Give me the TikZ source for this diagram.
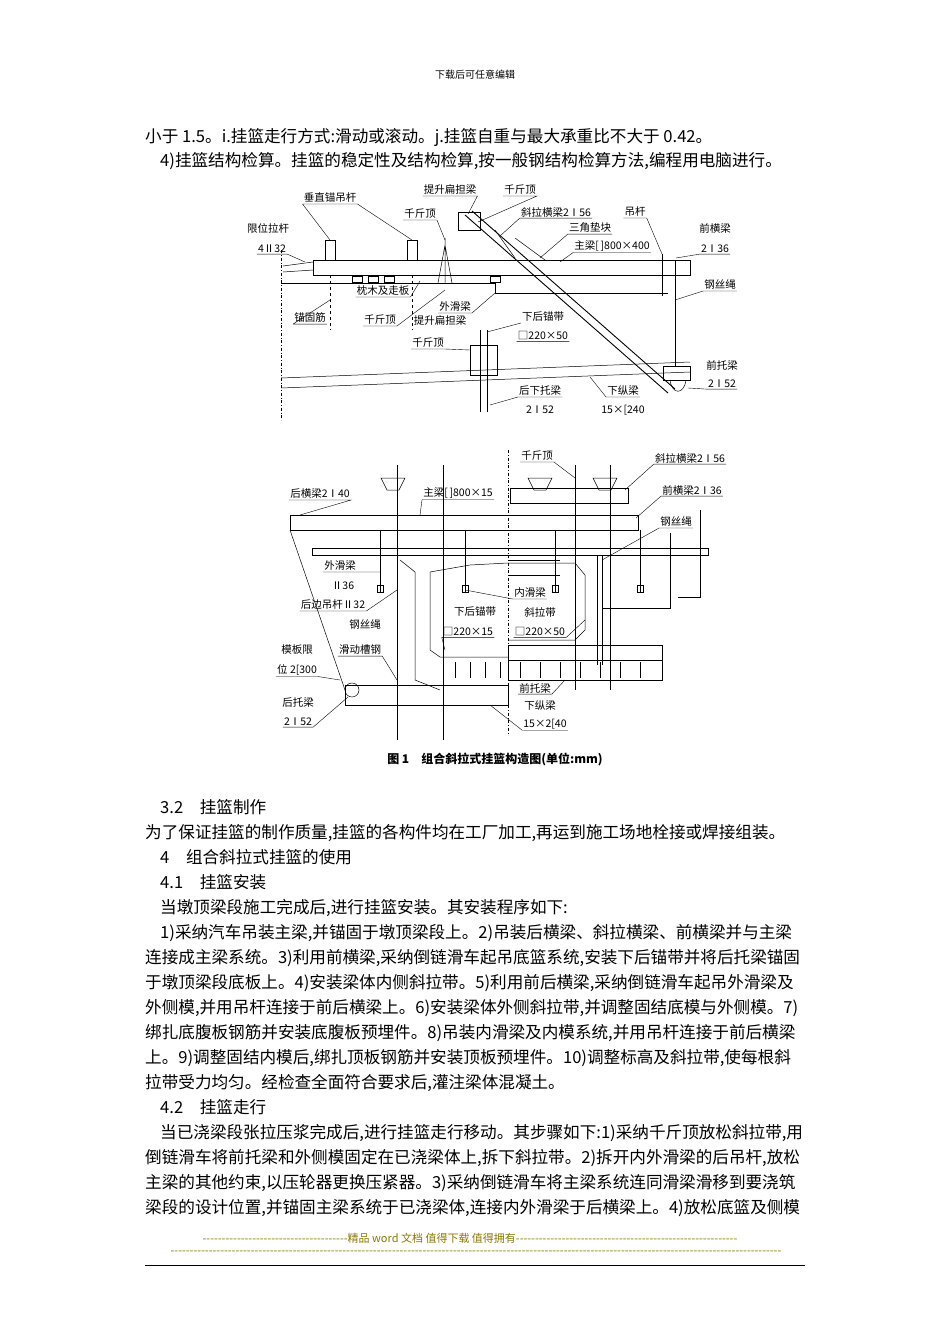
\documentclass[tikz,border=0pt]{standalone}
\usepackage{fontspec}
\setmainfont{Noto Sans CJK SC}
\usetikzlibrary{positioning}
\definecolor{footyellow}{HTML}{8A7800}
\ExplSyntaxOn
\cs_new:Npn \dashrun #1 {\prg_replicate:nn{#1}{-{}}}
\ExplSyntaxOff

\tikzset{
  body/.style={anchor=base west, inner sep=0pt, font=\fontsize{16.6}{17}\selectfont},
  lbl/.style={inner sep=1pt, font=\fontsize{10.5}{11}\selectfont},
  part/.style={draw, line width=0.9pt},
  thin/.style={draw, line width=0.5pt},
  lead/.style={draw, line width=0.4pt}
}

\begin{document}
\begin{tikzpicture}[x=1pt,y=-1pt]
\useasboundingbox (0,0) rectangle (950,1344);

% page header and text above figure
\node (head) [inner sep=0pt, font=\fontsize{10}{10}\selectfont] at (475,75) {下载后可任意编辑};
\node (t1) [body] at (145,142) {小于 1.5。i.挂篮走行方式:滑动或滚动。j.挂篮自重与最大承重比不大于 0.42。};
\node (t2) [body] at (160,166) {4)挂篮结构检算。挂篮的稳定性及结构检算,按一般钢结构检算方法,编程用电脑进行。};

% ---------- upper figure: elevation ----------
\draw[thin, dash dot] (281,250) -- (281,420);
\draw[part] (313,260) rectangle (690,275);
\draw[thin] (283,266) -- (313,262) (283,272) -- (313,270);
\draw[thin] (281,283) -- (495,283) -- (495,293) -- (668,293);
\draw[thin] (281,378) -- (690,362) (281,388) -- (690,372);
\draw[part] (465,215) -- (668,393) (472,211) -- (675,389);
\draw[thin] (458,212) rectangle (480,230);
\draw[thin] (495,230) -- (515,258) (515,238) -- (545,260);
\draw[part] (675,260) -- (675,366) (662,254) -- (662,296);
\draw[thin] (663,366) rectangle (690,380);
\draw[thin] (670,380) .. controls (672,395) and (684,395) .. (686,380);
\foreach \x in {330,412} {
  \draw[thin] (\x-5,240) rectangle (\x+5,260);
  \draw[thin, dashed] (\x,275) -- (\x,330);
}
\draw[thin] (445,238) -- (445,283) (438,283) -- (445,245) -- (452,283);
\foreach \x in {352,368,384,490} \draw[thin] (\x,276) rectangle (\x+10,282);
\draw[part] (480,330) -- (480,412) (487,330) -- (487,412);
\draw[thin] (470,345) rectangle (497,375);

% labels of upper figure
\node (ua) [lbl] at (330,198) {垂直锚吊杆};
\node (ub) [lbl] at (268,228) {限位拉杆};
\node (ub2) [lbl] at (272,249) {4Ⅱ32};
\node (uc) [lbl] at (450,190) {提升扁担梁};
\node (ud) [lbl] at (520,190) {千斤顶};
\node (ue) [lbl] at (420,214) {千斤顶};
\node (uf) [lbl] at (556,212) {斜拉横梁2Ⅰ56};
\node (ug) [lbl] at (635,212) {吊杆};
\node (uh) [lbl] at (590,228) {三角垫块};
\node (ui) [lbl] at (612,246) {主梁[\,]800×400};
\node (uj) [lbl] at (715,228) {前横梁};
\node (uj2) [lbl] at (715,249) {2Ⅰ36};
\node (uk) [lbl] at (720,285) {钢丝绳};
\node (ul) [lbl] at (383,291) {枕木及走板};
\node (um) [lbl] at (455,307) {外滑梁};
\node (un) [lbl] at (310,318) {锚固筋};
\node (uo) [lbl] at (380,320) {千斤顶};
\node (up) [lbl] at (440,321) {提升扁担梁};
\node (uq) [lbl] at (543,317) {下后锚带};
\node (uq2) [lbl] at (543,336) {□220×50};
\node (ur) [lbl] at (428,343) {千斤顶};
\node (us) [lbl] at (722,365) {前托梁};
\node (us2) [lbl] at (722,384) {2Ⅰ52};
\node (ut) [lbl] at (540,391) {后下托梁};
\node (ut2) [lbl] at (540,410) {2Ⅰ52};
\node (uu) [lbl] at (623,391) {下纵梁};
\node (uu2) [lbl] at (623,410) {15×[240};

\draw[lead] (ua.south west) -- (ua.south east) (ua.south west) -- (330,240) (ua.south east) -- (412,240);
\draw[lead] (ub2.south west) -- (ub2.south east) -- (305,262);
\draw[lead] (uc.south west) -- (uc.south east) -- (468,214);
\draw[lead] (ud.south west) -- (ud.south east) -- (478,222);
\draw[lead] (ue.south west) -- (ue.south east) -- (445,240);
\draw[lead] (uf.south west) -- (uf.south east) (uf.south west) -- (500,236);
\draw[lead] (ug.south west) -- (ug.south east) (ug.south east) -- (662,254);
\draw[lead] (uh.south west) -- (uh.south east) (uh.south west) -- (540,258);
\draw[lead] (ui.south west) -- (ui.south east) (ui.south west) -- (560,262);
\draw[lead] (uj2.south west) -- (uj2.south east) (uj2.south west) -- (676,258);
\draw[lead] (uk.south west) -- (uk.south east) (uk.south west) -- (675,300);
\draw[lead] (ul.south west) -- (ul.south east) -- (420,281);
\draw[lead] (um.south west) -- (um.south east) -- (495,293);
\draw[lead] (un.south west) -- (un.south east) (un.south west) -- (330,300);
\draw[lead] (uo.south west) -- (uo.south east) -- (445,290);
\draw[lead] (uq2.south west) -- (uq2.south east) (uq.south west) -- (487,332);
\draw[lead] (ur.south west) -- (ur.south east) -- (470,350);
\draw[lead] (us2.south west) -- (us2.south east) (us2.south west) -- (688,388);
\draw[lead] (ut.south west) -- (ut.south east) (ut.south west) -- (490,405);
\draw[lead] (uu.south west) -- (uu.south east) (uu.south west) -- (590,377);

% ---------- lower figure: cross section ----------
\draw[thin, dash dot] (508,450) -- (508,735);
\draw[part] (290,515) rectangle (638,530);
\draw[part] (510,488) rectangle (628,503);
\draw[thin] (290,530) -- (345,690);
\draw[thin] (312,548) -- (708,548) -- (708,555) -- (312,555) -- cycle;
\draw[thin] (400,560) -- (415,572) -- (415,680) -- (440,690) (430,572) -- (470,565) -- (508,563);
\draw[thin] (430,572) -- (430,650) -- (440,657) -- (508,657);
\draw[thin] (508,563) -- (575,563) -- (585,575) -- (585,630) -- (575,640) -- (508,640);
\draw[thin] (508,560) -- (560,560) (508,575) -- (560,575);
\draw[thin] (508,645) rectangle (662,660);
\draw[part] (508,660) rectangle (662,680);
\draw[part] (345,685) rectangle (508,705);
\draw[thin] (352,690) circle (7);
\foreach \x in {397,443} \draw[part] (\x,465) -- (\x,740);
\foreach \x in {575,610} \draw[part] (\x,465) -- (\x,690);
\foreach \x in {393,540,605} \draw[thin] (\x-12,478) -- (\x+12,478) -- (\x+6,490) -- (\x-6,490) -- cycle;
\foreach \x in {380,465,555,640} {
  \draw[thin] (\x,530) -- (\x,592);
  \draw[thin] (\x-3,585) rectangle (\x+3,592);
}
\foreach \x in {455,470,485,500,520,540,560,580,600,620,640} \draw[thin] (\x,662) -- (\x,678);
\draw[thin] (597,555) -- (597,665) (602,555) -- (602,665);
\draw[thin] (700,510) -- (700,597) -- (678,597);
\draw[thin] (670,533) -- (670,608) -- (602,608);

% labels of lower figure
\node (la) [lbl] at (537,456) {千斤顶};
\node (lb) [lbl] at (690,458) {斜拉横梁2Ⅰ56};
\node (lc) [lbl] at (320,494) {后横梁2Ⅰ40};
\node (ld) [lbl] at (458,493) {主梁[\,]800×15};
\node (le) [lbl] at (692,490) {前横梁2Ⅰ36};
\node (lf) [lbl] at (676,522) {钢丝绳};
\node (lg) [lbl] at (340,566) {外滑梁};
\node (lg2) [lbl] at (343,586) {Ⅱ36};
\node (lh) [lbl] at (333,605) {后边吊杆Ⅱ32};
\node (li) [lbl] at (530,593) {内滑梁};
\node (lj) [lbl] at (475,612) {下后锚带};
\node (lk) [lbl] at (540,612) {斜拉带};
\node (ll) [lbl] at (365,625) {钢丝绳};
\node (lj2) [lbl] at (468,632) {□220×15};
\node (lk2) [lbl] at (540,632) {□220×50};
\node (lm) [lbl] at (297,650) {模板限};
\node (lm2) [lbl] at (297,670) {位 2[300};
\node (ln) [lbl] at (360,650) {滑动槽钢};
\node (lo) [lbl] at (535,688) {前托梁};
\node (lp) [lbl] at (298,703) {后托梁};
\node (lp2) [lbl] at (298,722) {2Ⅰ52};
\node (lq) [lbl] at (540,706) {下纵梁};
\node (lq2) [lbl] at (545,724) {15×2[40};

\draw[lead] (la.south west) -- (la.south east) -- (575,478);
\draw[lead] (lb.south west) -- (lb.south east) (lb.south west) -- (625,490);
\draw[lead] (lc.south west) -- (lc.south east) -- (300,515);
\draw[lead] (ld.south west) -- (ld.south east) (ld.south west) -- (420,515);
\draw[lead] (le.south west) -- (le.south east) (le.south west) -- (636,518);
\draw[lead] (lf.south west) -- (lf.south east) (lf.south west) -- (602,560);
\draw[lead] (lg.south west) -- (lg.south east) -- (380,572);
\draw[lead] (lh.south west) -- (lh.south east) -- (397,590);
\draw[lead] (li.south west) -- (li.south east) (li.south west) -- (465,590);
\draw[lead] (lj2.south west) -- (lj2.south east) (lj2.south west) -- (445,650);
\draw[lead] (lk2.south west) -- (lk2.south east) -- (585,620);
\draw[lead] (lm2.south west) -- (lm2.south east) -- (340,680);
\draw[lead] (ln.south west) -- (ln.south east) (ln.south east) -- (397,680);
\draw[lead] (lo.south west) -- (lo.south east) -- (565,680);
\draw[lead] (lp2.south west) -- (lp2.south east) -- (348,697);
\draw[lead] (lq2.south west) -- (lq2.south east) (lq2.south west) -- (490,705);

\node (cap) [inner sep=0pt, font=\fontsize{12}{12}\selectfont\bfseries] at (495,759) {图 1\quad 组合斜拉式挂篮构造图(单位:mm)};

% text below figure
\node (s1) [body] at (160,813) {3.2\quad 挂篮制作};
\node (s2) [body] at (145,838) {为了保证挂篮的制作质量,挂篮的各构件均在工厂加工,再运到施工场地栓接或焊接组装。};
\node (s3) [body] at (160,863) {4\quad 组合斜拉式挂篮的使用};
\node (s4) [body] at (160,888) {4.1\quad 挂篮安装};
\node (s5) [body] at (160,913) {当墩顶梁段施工完成后,进行挂篮安装。其安装程序如下:};
\node (s6) [body] at (160,938) {1)采纳汽车吊装主梁,并锚固于墩顶梁段上。2)吊装后横梁、斜拉横梁、前横梁并与主梁};
\node (s7) [body] at (145,963) {连接成主梁系统。3)利用前横梁,采纳倒链滑车起吊底篮系统,安装下后锚带并将后托梁锚固};
\node (s8) [body] at (145,988) {于墩顶梁段底板上。4)安装梁体内侧斜拉带。5)利用前后横梁,采纳倒链滑车起吊外滑梁及};
\node (s9) [body] at (145,1013) {外侧模,并用吊杆连接于前后横梁上。6)安装梁体外侧斜拉带,并调整固结底模与外侧模。7)};
\node (s10) [body] at (145,1038) {绑扎底腹板钢筋并安装底腹板预埋件。8)吊装内滑梁及内模系统,并用吊杆连接于前后横梁};
\node (s11) [body] at (145,1063) {上。9)调整固结内模后,绑扎顶板钢筋并安装顶板预埋件。10)调整标高及斜拉带,使每根斜};
\node (s12) [body] at (145,1088) {拉带受力均匀。经检查全面符合要求后,灌注梁体混凝土。};
\node (s13) [body] at (160,1113) {4.2\quad 挂篮走行};
\node (s14) [body] at (160,1138) {当已浇梁段张拉压浆完成后,进行挂篮走行移动。其步骤如下:1)采纳千斤顶放松斜拉带,用};
\node (s15) [body] at (145,1163) {倒链滑车将前托梁和外侧模固定在已浇梁体上,拆下斜拉带。2)拆开内外滑梁的后吊杆,放松};
\node (s16) [body] at (145,1188) {主梁的其他约束,以压轮器更换压紧器。3)采纳倒链滑车将主梁系统连同滑梁滑移到要浇筑};
\node (s17) [body] at (145,1213) {梁段的设计位置,并锚固主梁系统于已浇梁体,连接内外滑梁于后横梁上。4)放松底篮及侧模};

% footer
\node (f1) [inner sep=0pt, font=\fontsize{11}{11}\selectfont, text=footyellow] at (470,1238) {\dashrun{38}精品 word 文档 值得下载 值得拥有\dashrun{58}};
\node (f2) [inner sep=0pt, font=\fontsize{11}{11}\selectfont, text=footyellow] at (476,1253) {\dashrun{160}};
\draw[line width=0.6pt] (145,1265) -- (805,1265);
\end{tikzpicture}
\end{document}
